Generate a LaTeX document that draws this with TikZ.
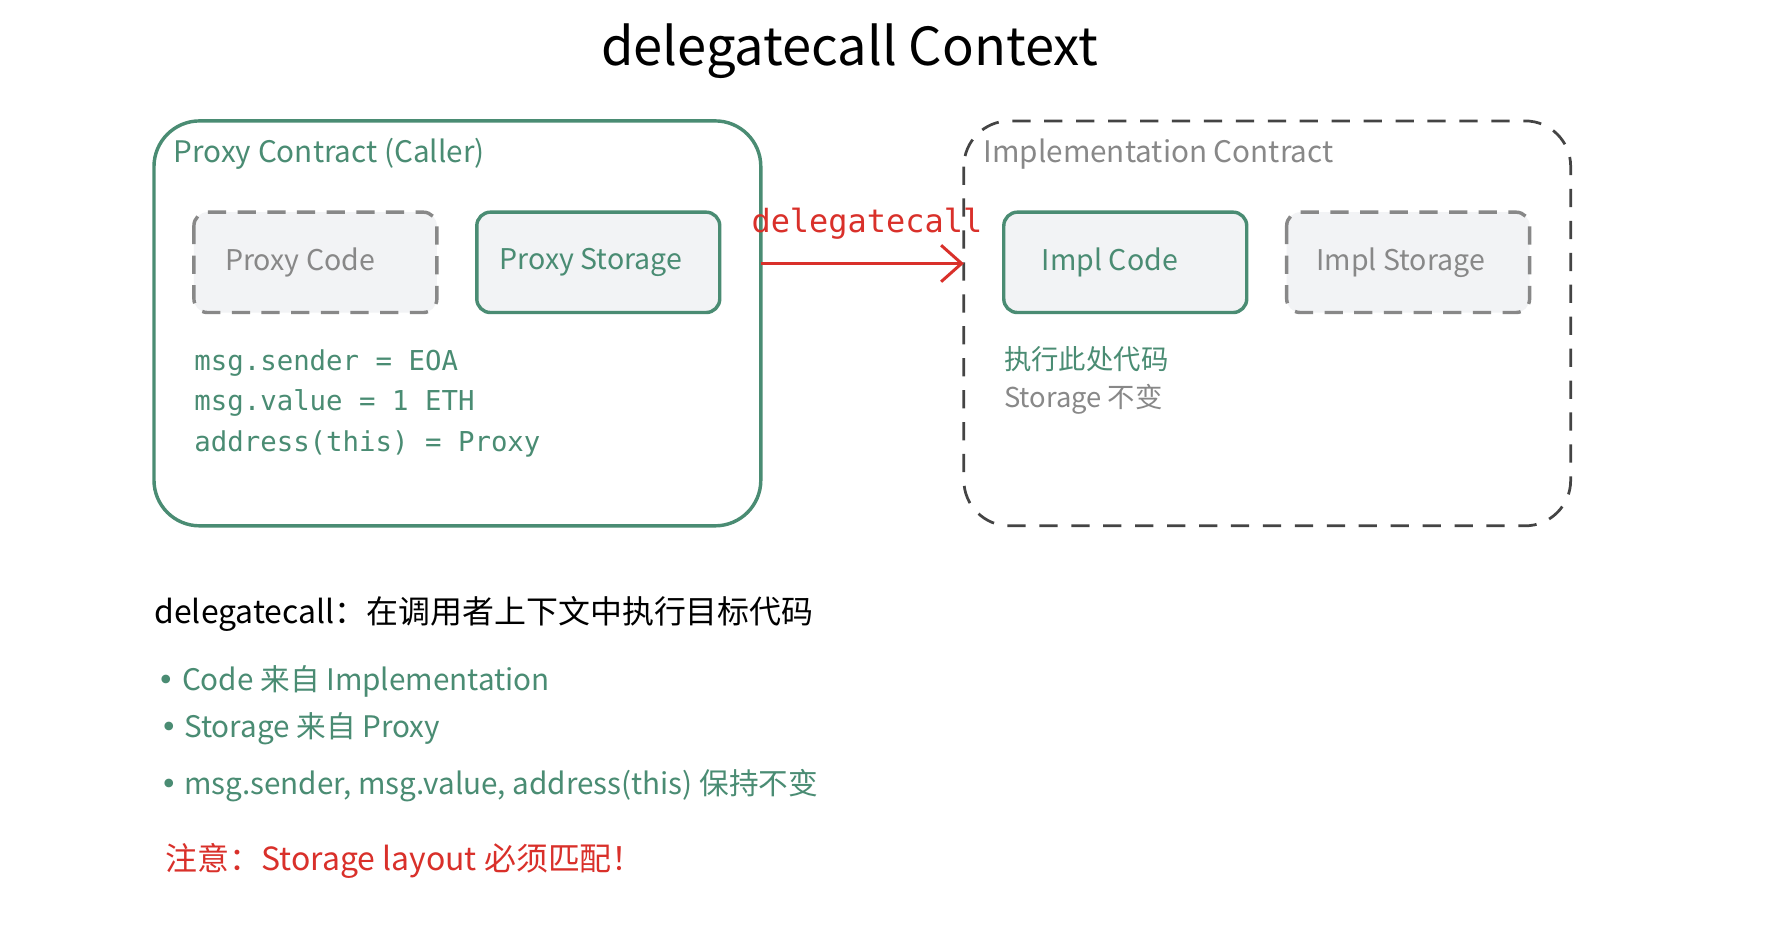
\documentclass[tikz,border=0pt]{standalone}
\usepackage{fontspec}
\setmainfont{Noto Sans CJK SC}
\setmonofont{DejaVu Sans Mono}
\newfontfamily\dejavu{DejaVu Sans}
\usetikzlibrary{arrows.meta}
\definecolor{gr}{HTML}{4A8C73}
\definecolor{gy}{HTML}{888888}
\definecolor{dk}{HTML}{444444}
\definecolor{rd}{HTML}{D9302A}
\definecolor{bx}{HTML}{F2F3F5}
\newcommand{\bul}{{\dejavu •}\ }
\tikzset{
 inner/.style={rounded corners=6pt,fill=bx,line width=1.5pt},
 txt/.style={anchor=west,inner sep=0pt,font=\fontsize{13}{15}\selectfont},
 mono/.style={anchor=west,inner sep=0pt,font=\ttfamily\fontsize{12}{14}\selectfont,text=gr},
 lbl/.style={font=\fontsize{12.5}{15}\selectfont},
}
\begin{document}
\begin{tikzpicture}[x=0.5pt,y=-0.5pt]
\useasboundingbox[fill=white] (0,0) rectangle (1550,817);
\node (title) at (745,45) {\fontsize{23}{28}\selectfont delegatecall Context};
\draw[draw=gr,line width=1.5pt,rounded corners=20pt] (135,106) rectangle (667,461);
\node[txt,text=gr] (pl) at (152,135) {Proxy Contract (Caller)};
\draw[inner,draw=gy,dash pattern=on 8pt off 5pt] (170,186) rectangle (383,274);
\node[lbl,text=gy] (pc) at (263,230) {Proxy Code};
\draw[inner,draw=gr] (418,186) rectangle (631,274);
\node[lbl,text=gr] (ps) at (518,230) {Proxy Storage};
\node[mono] (m1) at (170,318) {msg.sender = EOA};
\node[mono] (m2) at (170,353) {msg.value = 1 ETH};
\node[mono] (m3) at (170,389) {address(this) = Proxy};
\draw[draw=dk,line width=1.2pt,dash pattern=on 8pt off 6pt,rounded corners=20pt] (845,106) rectangle (1377,461);
\node[txt,text=gy] (il) at (862,135) {Implementation Contract};
\draw[inner,draw=gr] (880,186) rectangle (1093,274);
\node[lbl,text=gr] (ic) at (973,230) {Impl Code};
\draw[inner,draw=gy,dash pattern=on 8pt off 5pt] (1128,186) rectangle (1341,274);
\node[lbl,text=gy] (is) at (1228,230) {Impl Storage};
\coordinate (a1) at (667,231);
\coordinate (a2) at (845,231);
\draw[rd,line width=1.3pt,-{Straight Barb[length=9pt,width=16pt,line width=1.3pt]}] (a1) -- (a2);
\node[rd,font=\ttfamily\fontsize{14}{16}\selectfont] (dl) at (760,196) {delegatecall};
\node[txt,text=gr,font=\fontsize{12}{14}\selectfont] (e1) at (880,315) {执行此处代码};
\node[txt,text=gy,font=\fontsize{12}{14}\selectfont] (e2) at (880,350) {Storage 不变};
\node[txt,text=black,font=\fontsize{14}{16}\selectfont] (d1) at (135,538) {delegatecall：在调用者上下文中执行目标代码};
\node[txt,text=gr] (b1) at (138,597) {\bul Code 来自 Implementation};
\node[txt,text=gr] (b2) at (140,639) {\bul Storage 来自 Proxy};
\node[txt,text=gr] (b3) at (140,689) {\bul msg.sender, msg.value, address(this) 保持不变};
\node[txt,text=rd,font=\fontsize{14}{16}\selectfont] (n1) at (145,755) {注意：Storage layout 必须匹配！};
\end{tikzpicture}
\end{document}
